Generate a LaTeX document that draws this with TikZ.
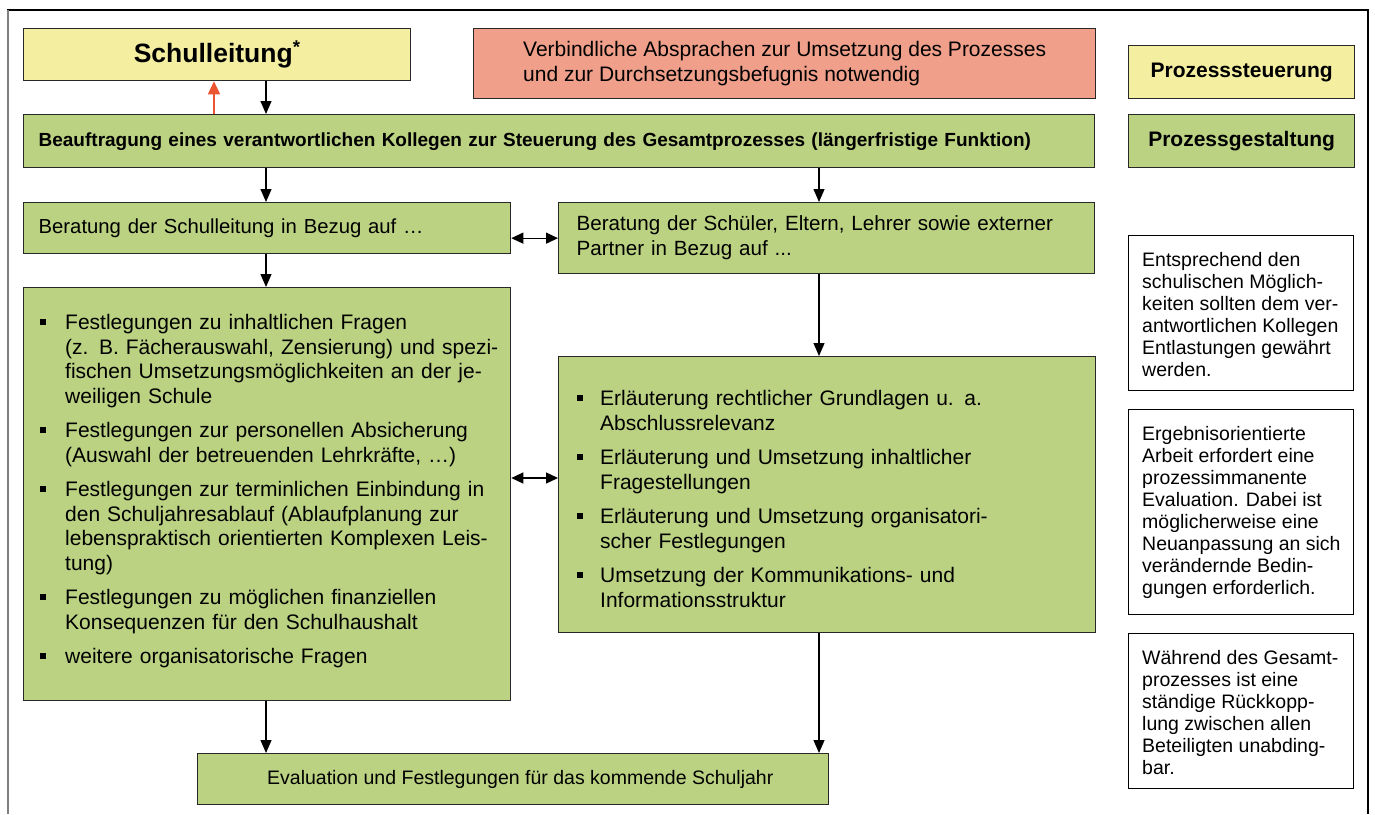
\documentclass[tikz,border=0pt]{standalone}
\usepackage{fontspec}
\setmainfont{Liberation Sans}
\usetikzlibrary{arrows.meta}
\definecolor{yel}{RGB}{243,238,160}
\definecolor{grn}{RGB}{187,210,130}
\definecolor{redf}{RGB}{240,160,138}
\definecolor{redarr}{RGB}{236,85,50}
\definecolor{bord}{RGB}{40,40,40}
\newcommand{\bsq}{\rule[0.24em]{0.26em}{0.26em}}
\newcommand{\bitem}[2]{\par\hspace*{-#1}\makebox[#1][l]{\bsq}\strut #2\par}
\tikzset{
  box/.style={draw=bord, line width=1.3pt, inner sep=0pt, anchor=north west},
  note/.style={draw=black, line width=1.1pt, inner sep=0pt, fill=white, anchor=north west},
  ntext/.style={anchor=north west, inner sep=0pt, align=left, font=\fontsize{19.5}{22}\selectfont},
  ltext/.style={anchor=north west, inner sep=0pt, font=\fontsize{21}{24.5}\selectfont},
  arr/.style={line width=1.2pt, -{Triangle[length=13pt,width=11pt]}},
  darr/.style={line width=1.2pt, {Triangle[length=12pt,width=11pt]}-{Triangle[length=12pt,width=11pt]}},
  rarr/.style={line width=1.5pt, draw=redarr, -{Triangle[length=13pt,width=12pt]}, redarr},
}
\begin{document}
\begin{tikzpicture}[x=1pt,y=-1pt]
\useasboundingbox (0,0) rectangle (1375,814);
% frame
\draw[line width=2pt] (7,10) -- (1369,10);
\draw[line width=1.5pt, gray] (8,10) -- (8,814);
\draw[line width=1.5pt] (1368,10) -- (1368,814);

\coordinate (xL) at (266,0);
\coordinate (xR) at (819,0);
\coordinate (xRed) at (214,0);
\coordinate (ymid) at (0,478);
\coordinate (xEv) at (267,0);

\node[box, fill=yel, minimum width=387pt, minimum height=52pt, font=\fontsize{26.5}{30}\selectfont\bfseries] (sl) at (23,28) {Schulleitung\textsuperscript{*}};
\node[box, fill=redf, minimum width=622pt, minimum height=70pt, align=left, font=\fontsize{21}{25}\selectfont] (red) at (473,28) {Verbindliche Absprachen zur Umsetzung des Prozesses\\und zur Durchsetzungsbefugnis notwendig};
\node[box, fill=yel, minimum width=226pt, minimum height=53pt, font=\fontsize{21}{24}\selectfont\bfseries] (ps) at (1128,45) {Prozesssteuerung};
\node[box, fill=grn, minimum width=226pt, minimum height=53pt, font=\fontsize{21}{24}\selectfont\bfseries] (pg) at (1128,114) {Prozessgestaltung};
\node[box, fill=grn, minimum width=1071pt, minimum height=53pt, text width=1041pt, align=left, font=\fontsize{19}{22}\selectfont\bfseries] (beauf) at (23,114) {Beauftragung eines verantwortlichen Kollegen zur Steuerung des Gesamtprozesses (längerfristige Funktion)};
\node[box, fill=grn, minimum width=487pt, minimum height=51pt, text width=457pt, align=left, font=\fontsize{20.3}{24}\selectfont] (bsl) at (23,202) {Beratung der Schulleitung in Bezug auf …};
\node[box, fill=grn, minimum width=536pt, minimum height=71pt, text width=500pt, align=left, font=\fontsize{20.6}{25}\selectfont] (bsch) at (558,202) {Beratung der Schüler, Eltern, Lehrer sowie externer\\Partner in Bezug auf ...};

\node[box, fill=grn, minimum width=487pt, minimum height=413pt] (lb) at (23,287) {};
\node[ltext, text width=460pt] (lbt) at (40,295) {%
\parskip=10pt \leftskip=25pt \tolerance=10000 \hbadness=10000
\bitem{25pt}{Festlegungen zu inhaltlichen Fragen\newline
(z. B. Fächerauswahl, Zensierung) und spezi-\linebreak
fischen Umsetzungsmöglichkeiten an der je-\linebreak
weiligen Schule}
\bitem{25pt}{Festlegungen zur personellen Absicherung\newline
(Auswahl der betreuenden Lehrkräfte, …)}
\bitem{25pt}{Festlegungen zur terminlichen Einbindung in\linebreak
den Schuljahresablauf (Ablaufplanung zur\linebreak
lebenspraktisch orientierten Komplexen Leis-\linebreak
tung)}
\bitem{25pt}{Festlegungen zu möglichen finanziellen\newline
Konsequenzen für den Schulhaushalt}
\bitem{25pt}{weitere organisatorische Fragen}};

\node[box, fill=grn, minimum width=537pt, minimum height=276pt] (rb) at (558,356) {};
\node[ltext, text width=420pt] (rbt) at (577,371) {%
\parskip=10pt \leftskip=23pt \tolerance=10000 \hbadness=10000
\bitem{23pt}{Erläuterung rechtlicher Grundlagen u. a.\linebreak
Abschlussrelevanz}
\bitem{23pt}{Erläuterung und Umsetzung inhaltlicher\newline
Fragestellungen}
\bitem{23pt}{Erläuterung und Umsetzung organisatori-\linebreak
scher Festlegungen}
\bitem{23pt}{Umsetzung der Kommunikations- und\linebreak
Informationsstruktur}};

\node[box, fill=grn, minimum width=631pt, minimum height=51pt] (ev) at (197,753) {};
\node[font=\fontsize{19.5}{23}\selectfont, inner sep=0pt, anchor=west] (evt) at (ev.west -| xEv) {Evaluation und Festlegungen für das kommende Schuljahr};

% notes
\node[note, minimum width=225pt, minimum height=155pt] (n1) at (1128,235) {};
\node[ntext] (n1t) at (1142,251) {\strut Entsprechend den\\schulischen Möglich-\\keiten sollten dem ver-\\antwortlichen Kollegen\\Entlastungen gewährt\\werden.};
\node[note, minimum width=225pt, minimum height=205pt] (n2) at (1128,409) {};
\node[ntext] (n2t) at (1142,425) {\strut Ergebnisorientierte\\Arbeit erfordert eine\\prozessimmanente\\Evaluation. Dabei ist\\möglicherweise eine\\Neuanpassung an sich\\verändernde Bedin-\\gungen erforderlich.};
\node[note, minimum width=225pt, minimum height=155pt] (n3) at (1128,633) {};
\node[ntext] (n3t) at (1142,649) {\strut Während des Gesamt-\\prozesses ist eine\\ständige Rückkopp-\\lung zwischen allen\\Beteiligten unabding-\\bar.};

% connectors
\draw[arr] (sl.south -| xL) -- (beauf.north -| xL);
\draw[rarr] (beauf.north -| xRed) -- (sl.south -| xRed);
\draw[arr] (beauf.south -| xL) -- (bsl.north -| xL);
\draw[arr] (beauf.south -| xR) -- (bsch.north -| xR);
\draw[arr] (bsl.south -| xL) -- (lb.north -| xL);
\draw[arr] (bsch.south -| xR) -- (rb.north -| xR);
\draw[darr] (bsl.east |- bsch.west) -- (bsch.west);
\draw[darr] (lb.east |- ymid) -- (rb.west |- ymid);
\draw[arr] (lb.south -| xL) -- (ev.north -| xL);
\draw[arr] (rb.south -| xR) -- (ev.north -| xR);
\end{tikzpicture}
\end{document}
